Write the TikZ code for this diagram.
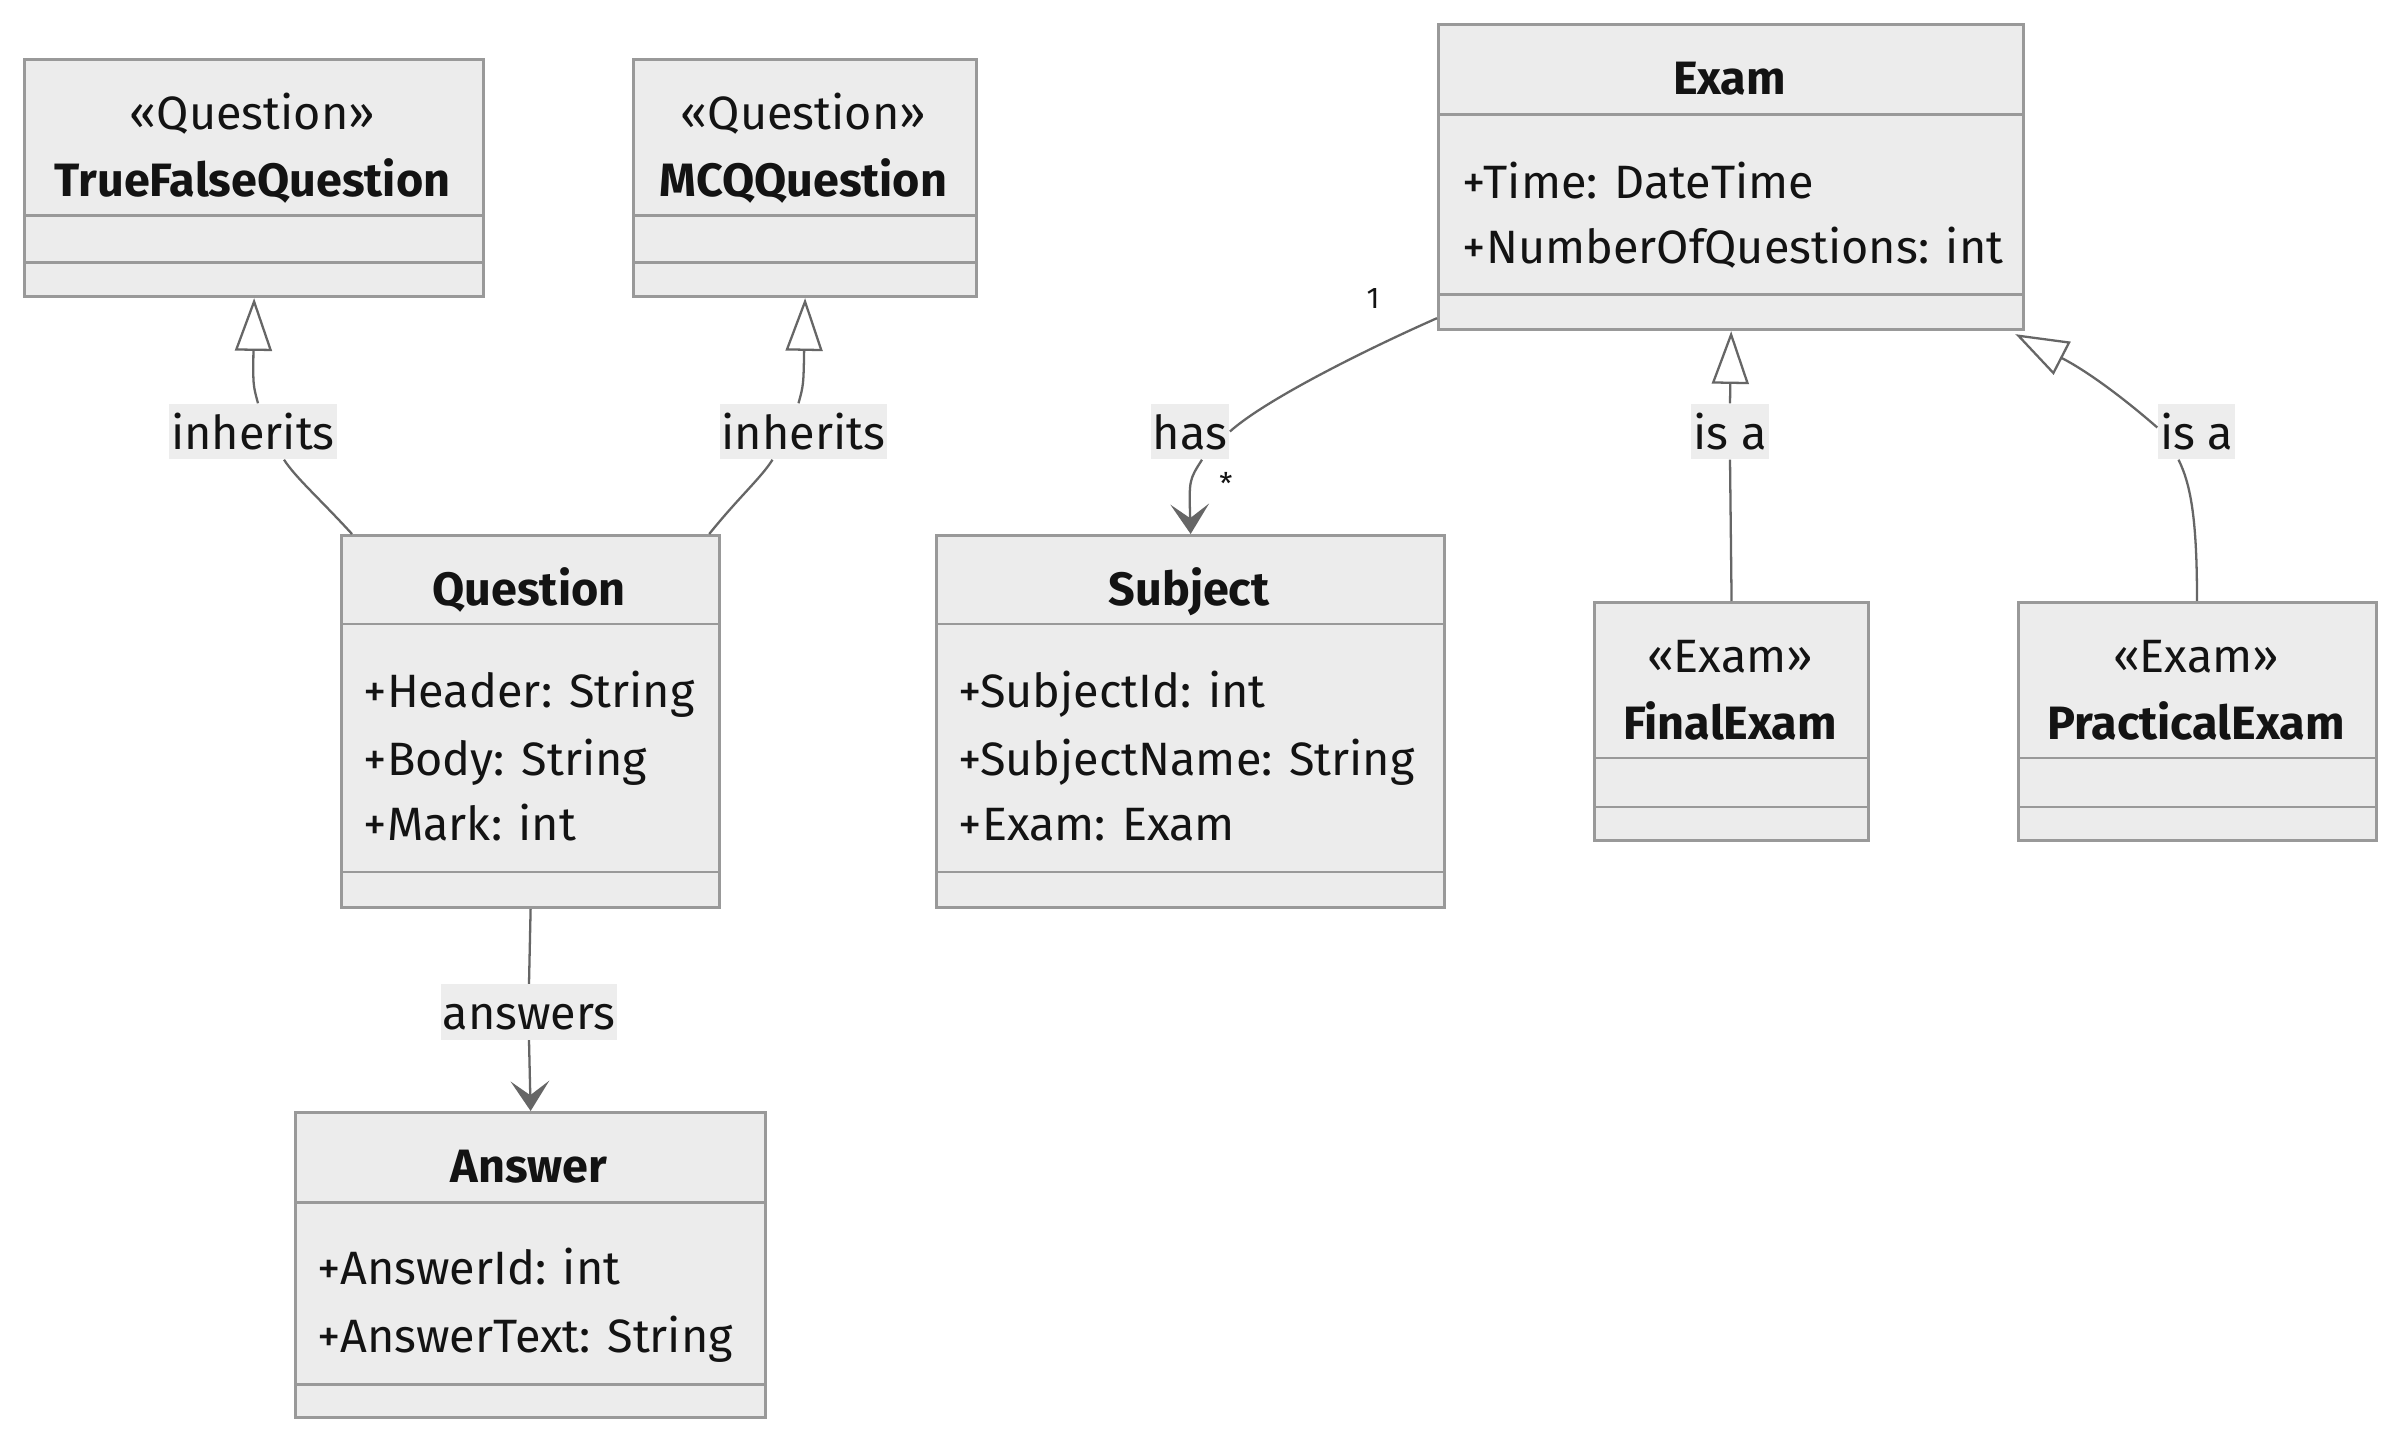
\documentclass[tikz,border=0pt]{standalone}
\usepackage{fontspec}
\setmainfont{Fira Sans}
\usepackage{xcolor}
\usetikzlibrary{arrows.meta,positioning,calc}

\definecolor{boxfill}{HTML}{ECECEC}
\definecolor{boxline}{HTML}{999999}
\definecolor{edgeline}{HTML}{666666}
\definecolor{lblfill}{HTML}{EDEDED}
\definecolor{txt}{HTML}{131313}

\tikzset{
  classbox/.style={draw=boxline,fill=boxfill,line width=0.85pt,anchor=north west,inner sep=0pt},
  divider/.style={draw=boxline,line width=0.85pt},
  umltext/.style={font=\fontsize{13.3}{16}\selectfont,text=txt,inner sep=0pt,text height=11pt,text depth=1pt},
  cname/.style={umltext,font=\fontsize{13.3}{16}\selectfont\bfseries},
  stereo/.style={umltext},
  attr/.style={umltext,anchor=west},
  elabel/.style={umltext,fill=lblfill,inner xsep=0.6pt,minimum height=0.55cm},
  mult/.style={font=\fontsize{8.5}{10}\selectfont,text=txt,inner sep=0pt},
  conn/.style={draw=edgeline,line width=0.65pt},
  inh/.style={conn,-{Triangle[open,length=15pt,width=10.5pt,line width=0.65pt]}},
  assoc/.style={conn,-{Stealth[length=8.5pt,width=11pt,inset=4pt]}}
}

\begin{document}
\begin{tikzpicture}[x=0.01cm,y=-0.01cm]
\useasboundingbox[fill=white] (0,0) rectangle (2400,1440);

% class boxes
\node[classbox,minimum width=4.59cm,minimum height=2.37cm] (tfq) at (23,58) {};
\draw[divider] (23,216) -- (482,216) (23,263) -- (482,263);
\node[stereo] (tfqst) at (252.5,112) {«Question»};
\node[cname] (tfqname) at (252.5,179) {TrueFalseQuestion};

\node[classbox,minimum width=3.43cm,minimum height=2.37cm] (mcq) at (632,58) {};
\draw[divider] (632,216) -- (975,216) (632,263) -- (975,263);
\node[stereo] (mcqst) at (803.5,112) {«Question»};
\node[cname] (mcqname) at (803.5,179) {MCQQuestion};

\node[classbox,minimum width=5.85cm,minimum height=3.05cm] (exam) at (1437,23) {};
\draw[divider] (1437,115) -- (2022,115) (1437,295) -- (2022,295);
\node[cname] (examname) at (1729.5,77) {Exam};
\node[attr] (exama1) at (1462,181) {+Time: DateTime};
\node[attr] (exama2) at (1462,246) {+NumberOfQuestions: int};

\node[classbox,minimum width=3.78cm,minimum height=3.72cm] (question) at (340,534) {};
\draw[divider] (340,624) -- (718,624) (340,872) -- (718,872);
\node[cname] (qname) at (529,588) {Question};
\node[attr] (qa1) at (363,690) {+Header: String};
\node[attr] (qa2) at (363,758) {+Body: String};
\node[attr] (qa3) at (363,823) {+Mark: int};

\node[classbox,minimum width=5.08cm,minimum height=3.72cm] (subject) at (935,534) {};
\draw[divider] (935,624) -- (1443,624) (935,872) -- (1443,872);
\node[cname] (sname) at (1189,588) {Subject};
\node[attr] (sa1) at (958,690) {+SubjectId: int};
\node[attr] (sa2) at (958,758) {+SubjectName: String};
\node[attr] (sa3) at (958,823) {+Exam: Exam};

\node[classbox,minimum width=2.74cm,minimum height=2.38cm] (finalexam) at (1593,601) {};
\draw[divider] (1593,758) -- (1867,758) (1593,807) -- (1867,807);
\node[stereo] (finalst) at (1730,655) {«Exam»};
\node[cname] (finalname) at (1730,722) {FinalExam};

\node[classbox,minimum width=3.58cm,minimum height=2.38cm] (practical) at (2017,601) {};
\draw[divider] (2017,758) -- (2375,758) (2017,807) -- (2375,807);
\node[stereo] (practst) at (2196,655) {«Exam»};
\node[cname] (practname) at (2196,722) {PracticalExam};

\node[classbox,minimum width=4.70cm,minimum height=3.05cm] (answer) at (294,1111) {};
\draw[divider] (294,1202) -- (764,1202) (294,1384) -- (764,1384);
\node[cname] (aname) at (529,1165) {Answer};
\node[attr] (aa1) at (317,1267) {+AnswerId: int};
\node[attr] (aa2) at (317,1335) {+AnswerText: String};

% edge labels
\node[elabel] (lbinh1) at (253,431.5) {inherits};
\node[elabel] (lbinh2) at (803.5,431.5) {inherits};
\node[elabel] (lbhas) at (1190,431.5) {has};
\node[elabel] (lbisa1) at (1730,431.5) {is a};
\node[elabel] (lbisa2) at (2196.5,431.5) {is a};
\node[elabel] (lbans) at (529,1012) {answers};
\node[mult] (mone) at (1373,299) {1};
\node[mult] (mmany) at (1226,483) {*};

% connectors
\draw[conn] ($(question.north west)+(12,0)$) .. controls (318,497) and (296,478) .. ($(lbinh1.south)+(31,0)$);
\draw[inh] ($(lbinh1.north)+(5,0)$) .. controls (253,385) .. (tfq.south);
\draw[conn] ($(question.north east)+(-12,0)$) .. controls (739,497) and (761,478) .. ($(lbinh2.south)+(-31,0)$);
\draw[inh] ($(lbinh2.north)+(-5,0)$) .. controls (803.5,385) .. (mcq.south);

\draw[conn] ($(exam.south west)+(0,-13)$) .. controls (1365,350) and (1265,400) .. (lbhas.east);
\draw[assoc] ($(lbhas.south)+(12,0)$) .. controls (1189,480) .. (subject.north);

\draw[conn] (finalexam.north) -- (lbisa1.south);
\draw[inh] (lbisa1.north) -- (exam.south);

\draw[conn] ($(practical.north west)+(180,0)$) .. controls (2197,520) and (2191,485) .. ($(lbisa2.south)+(-18,0)$);
\draw[inh] ($(lbisa2.west)+(0,-4)$) .. controls (2120,395) and (2085,370) .. ($(exam.south east)+(-10,3)$);

\draw[conn] (question.south) -- (lbans.north);
\draw[assoc] (lbans.south) -- (answer.north);
\end{tikzpicture}
\end{document}
